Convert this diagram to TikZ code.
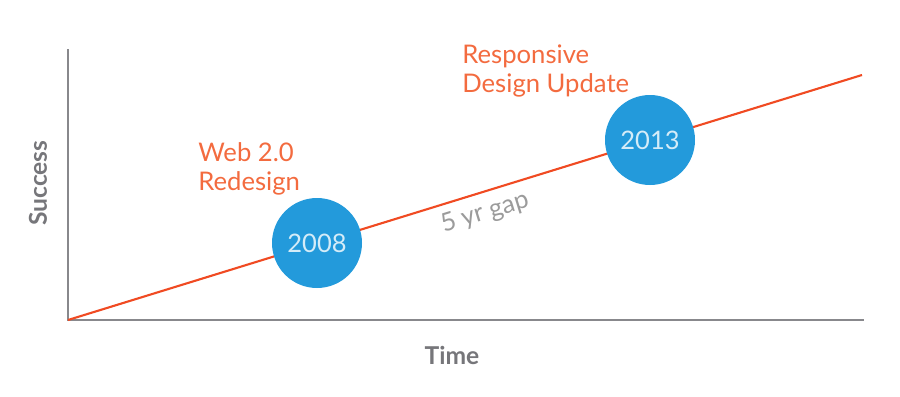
\documentclass[tikz,border=0pt]{standalone}
\usepackage{fontspec}
\setmainfont{Lato}
\usepackage{tikz}
\usetikzlibrary{positioning}
\usepackage{xcolor}

\definecolor{axisgray}{HTML}{88888C}
\definecolor{trendred}{HTML}{F04A22}
\definecolor{notecolor}{HTML}{F36B3F}
\definecolor{dotblue}{HTML}{239ADB}
\definecolor{yearcolor}{HTML}{D4ECF8}
\definecolor{gapgray}{HTML}{9B9B9B}
\definecolor{labelgray}{HTML}{76767A}

\begin{document}
\begin{tikzpicture}[
        x=0.02cm, y=-0.02cm,
        axis/.style={line width=1.7pt, draw=axisgray},
        trend/.style={line width=1.2pt, draw=trendred},
        milestone/.style={circle, fill=dotblue, minimum size=90*0.02cm, inner sep=0pt, text=yearcolor, font=\fontsize{14.5}{16}\selectfont},
        note/.style={align=left, anchor=base west, inner sep=0pt, text=notecolor, font=\fontsize{14.6}{16}\selectfont},
        axislabel/.style={text=labelgray, font=\fontsize{14}{16}\selectfont\bfseries}
      ]
      \useasboundingbox (0,0) rectangle (900,396);

      % Axes
      \coordinate (origin) at (68,320);
      \coordinate (ytop) at (68,49);
      \coordinate (xend) at (864,320);
      \draw[axis] (ytop) -- (origin) -- (xend);

      \node[axislabel] (time) at (452,355) {Time};
      \node[axislabel, rotate=90] (success) at (38,183) {Success};

      % Trend line
      \coordinate (trendend) at (862,75);
      \draw[trend] (origin) -- (trendend);

      % Milestones
      \node[milestone] (y2008) at (317,243) {2008};
      \node[milestone] (y2013) at (650,140) {2013};

      \node[note] (web) at (198,190) {Web 2.0\\Redesign};
      \node[note] (responsive) at (462,92) {Responsive\\Design Update};

      \node[text=gapgray, rotate=17.15, font=\fontsize{14.5}{16}\selectfont] (gap) at (485,213) {5 yr gap};
  \end{tikzpicture}
\end{document}
